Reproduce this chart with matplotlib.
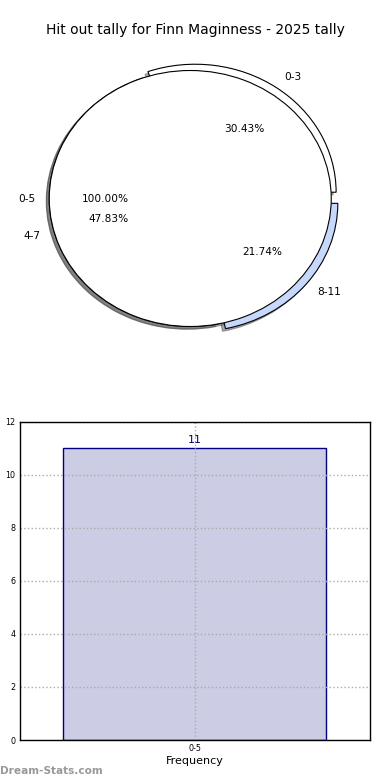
import matplotlib
matplotlib.use("Agg")
import matplotlib.pyplot as plt

# ---- data ----
title = "Hit out tally for Finn Maginness - 2025 tally"
pie_labels = ["0-3", "4-7", "8-11"]
pie_values = [7, 11, 5]
pie_colors = ["#ffffff", "#e8eefc", "#c6d9fd"]
pie_explode = [0.06, 0.0, 0.06]

total_labels = ["0-5"]
total_values = [11]

bar_categories = ["0-5"]
bar_values = [11]
y_ticks = [0, 2, 4, 6, 8, 10, 12]

fig = plt.figure(figsize=(3.9, 7.8), dpi=100)

# ---- pie ----
ax1 = fig.add_axes([14 / 390, 1 - 358.5 / 780, 352.5 / 390, 320 / 780])
wp = dict(edgecolor="black", linewidth=0.8)
tp = dict(fontsize=7.6)
sh = dict(ox=-0.015, oy=-0.015, alpha=0.45)
ax1.pie(pie_values, labels=pie_labels, colors=pie_colors, explode=pie_explode,
        autopct="%.2f%%", shadow=sh, startangle=0, wedgeprops=wp, textprops=tp)
ax1.pie(total_values, labels=total_labels, colors=["#ffffff"],
        autopct="%.2f%%", shadow=sh, startangle=0, wedgeprops=wp, textprops=tp)
ax1.set_aspect("auto")
ax1.set_xlim(-1.25, 1.25)
ax1.set_ylim(-1.25, 1.25)
ax1.axis("off")

fig.text(0.5, 1 - 30 / 780, title, ha="center", va="center", fontsize=10)

# ---- bar ----
ax2 = fig.add_axes([19.5 / 390, 40 / 780, 350.5 / 390, 318.3 / 780])
x = list(range(len(bar_categories)))
ax2.bar(x, bar_values, width=0.75, color="navy", alpha=0.2, zorder=1)
ax2.bar(x, bar_values, width=0.75, facecolor="none", edgecolor="navy", linewidth=1.0, zorder=2)
for xi, v in zip(x, bar_values):
    ax2.text(xi, v + 0.12, str(v), ha="center", va="bottom", fontsize=8, color="navy")
ax2.set_xlim(-0.5, 0.5)
ax2.set_ylim(0, 12)
ax2.set_xticks(x)
ax2.set_xticklabels(bar_categories)
ax2.set_yticks(y_ticks)
ax2.tick_params(axis="both", labelsize=5.8, length=0, pad=3)
ax2.grid(True, linestyle=":", color="#aaaaaa", linewidth=1.0, zorder=1.5)
ax2.set_axisbelow(False)
for s in ax2.spines.values():
    s.set_linewidth(1.0)
    s.set_color("black")
    s.set_zorder(5)
ax2.set_xlabel("Frequency", fontsize=8, labelpad=2)
ax2.set_ylabel("Number of Games", fontsize=7)
ax2.yaxis.set_label_coords(-0.05, 0.5)

fig.text(0.0, 1 - 771 / 780, "Dream-Stats.com", ha="left", va="center",
         fontsize=7.6, fontweight="bold", color="#999999")

fig.savefig("out.png", dpi=100)
